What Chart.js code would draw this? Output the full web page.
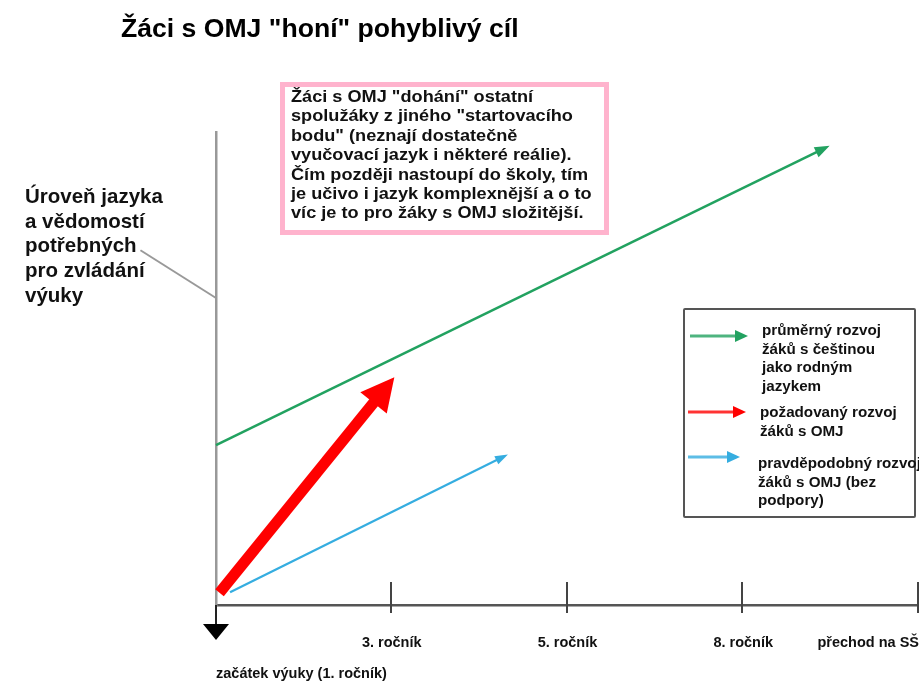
<!DOCTYPE html>
<html lang="cs">
<head>
<meta charset="utf-8">
<title>Žáci s OMJ "honí" pohyblivý cíl</title>
<script src="https://cdn.jsdelivr.net/npm/chart.js@4.4.1/dist/chart.umd.min.js"></script>
<style>
  html, body { margin: 0; padding: 0; background: #fff; }
  #wrap { position: relative; width: 919px; height: 682px; overflow: hidden;
          font-family: 'Liberation Sans', Arial, sans-serif; font-weight: bold; color: #111; }
  #chart { position: absolute; left: 0; top: 0; }
  .title { position: absolute; left: 121px; top: 13px; font-size: 26.6px; white-space: nowrap; color: #000; }
  .ylabel { position: absolute; left: 25px; top: 184px; font-size: 20.5px; line-height: 24.7px; white-space: nowrap; }
  .note { position: absolute; left: 280px; top: 82px; width: 313px; height: 143px;
          border: 5px solid #ffb3cd; padding: 0 0 0 6px; box-sizing: content-box; }
  .note div { font-size: 16.5px; line-height: 19.4px; white-space: nowrap;
              transform: scaleX(1.1); transform-origin: 0 0; }
  .legend { position: absolute; left: 683px; top: 308px; width: 229px; height: 206px;
            border: 2px solid #555; border-radius: 2px; overflow: visible; }
  .item { position: absolute; font-size: 15.2px; line-height: 18.7px; white-space: nowrap; }
  .arrow { position: absolute; }
</style>
</head>
<body>
<div id="wrap">
  <canvas id="chart" width="919" height="682"></canvas>
  <div class="title">Žáci s OMJ "honí" pohyblivý cíl</div>
  <div class="ylabel">Úroveň jazyka<br>a vědomostí<br>potřebných<br>pro zvládání<br>výuky</div>
  <div class="note"><div>Žáci s OMJ "dohání" ostatní<br>spolužáky z jiného "startovacího<br>bodu" (neznají dostatečně<br>vyučovací jazyk i některé reálie).<br>Čím později nastoupí do školy, tím<br>je učivo i jazyk komplexnější a o to<br>víc je to pro žáky s OMJ složitější.</div></div>
  <div class="legend" id="legend"></div>
</div>
<script>
// Values on an arbitrary scale: x = school stage (0 = start), y = level
const stageTicks = [0, 1, 2, 3, 4];
const stageLabels = [['', 'začátek výuky (1. ročník)'], '3. ročník', '5. ročník', '8. ročník', 'přechod na SŠ'];

const seriesNames = [
  ['průměrný rozvoj', 'žáků s češtinou', 'jako rodným', 'jazykem'],
  ['požadovaný rozvoj', 'žáků s OMJ'],
  ['pravděpodobný rozvoj', 'žáků s OMJ (bez', 'podpory)']
];
const seriesColors = ['#22a260', '#ff0000', '#35ade0'];

// start and end (shaft end, the head is drawn on top) of each arrow
const nativeX = [0, 3.42];
const nativeY = [3.38, 9.58];
const requiredX = [0.02, 0.90];
const requiredY = [0.26, 4.29];
const probableX = [0.08, 1.60];
const probableY = [0.27, 3.07];
// leader line from the y-axis label to the axis
const leaderX = [-0.43, 0];
const leaderY = [7.5, 6.49];

const pts = (xs, ys) => xs.map((x, i) => ({ x: x, y: ys[i] }));

// arrow heads at the last point of a dataset
const arrowHeads = {
  id: 'arrowHeads',
  afterDatasetsDraw(chart) {
    const ctx = chart.ctx;
    chart.data.datasets.forEach((ds, i) => {
      if (!ds.headLength) return;
      const data = chart.getDatasetMeta(i).data;
      const a = data[data.length - 2], b = data[data.length - 1];
      const ang = Math.atan2(b.y - a.y, b.x - a.x);
      ctx.save();
      ctx.translate(b.x, b.y);
      ctx.rotate(ang);
      ctx.beginPath();
      ctx.moveTo(ds.headLength, 0);
      ctx.lineTo(-1, -ds.headWidth / 2);
      ctx.lineTo(-1, ds.headWidth / 2);
      ctx.closePath();
      ctx.fillStyle = ds.borderColor;
      ctx.fill();
      ctx.restore();
    });
  }
};

// tick marks crossing the x axis + the down arrow at the start
const axisDecor = {
  id: 'axisDecor',
  afterDraw(chart) {
    const ctx = chart.ctx, xs = chart.scales.x, y0 = chart.scales.y.getPixelForValue(0);
    ctx.save();
    ctx.strokeStyle = '#444';
    ctx.lineWidth = 2;
    stageTicks.slice(1).forEach(v => {
      const px = Math.round(xs.getPixelForValue(v)) - 1;
      ctx.beginPath();
      ctx.moveTo(px, y0 - 23);
      ctx.lineTo(px, y0 + 8);
      ctx.stroke();
    });
    const p0 = xs.getPixelForValue(0);
    ctx.strokeStyle = '#222';
    ctx.beginPath();
    ctx.moveTo(p0, y0);
    ctx.lineTo(p0, y0 + 20);
    ctx.stroke();
    ctx.fillStyle = '#000';
    ctx.beginPath();
    ctx.moveTo(p0 - 13, y0 + 19);
    ctx.lineTo(p0 + 13, y0 + 19);
    ctx.lineTo(p0, y0 + 35);
    ctx.closePath();
    ctx.fill();
    ctx.restore();
  }
};

new Chart(document.getElementById('chart'), {
  type: 'line',
  data: {
    datasets: [{
      label: seriesNames[0].join(' '),
      data: pts(nativeX, nativeY),
      borderColor: seriesColors[0],
      borderWidth: 2.5,
      headLength: 14, headWidth: 11
    }, {
      label: seriesNames[1].join(' '),
      data: pts(requiredX, requiredY),
      borderColor: seriesColors[1],
      borderWidth: 11,
      headLength: 32, headWidth: 34
    }, {
      label: seriesNames[2].join(' '),
      data: pts(probableX, probableY),
      borderColor: seriesColors[2],
      borderWidth: 2.2,
      headLength: 12, headWidth: 9
    }, {
      label: 'leader',
      data: pts(leaderX, leaderY),
      borderColor: '#999',
      borderWidth: 2
    }]
  },
  options: {
    responsive: false,
    animation: false,
    devicePixelRatio: 1,
    layout: { padding: { left: 216, right: 0, top: 132, bottom: 0 } },
    elements: {
      point: { radius: 0 },
      line: { tension: 0, borderCapStyle: 'butt' }
    },
    datasets: { line: { clip: false } },
    plugins: { legend: { display: false }, tooltip: { enabled: false }, title: { display: false } },
    scales: {
      x: {
        type: 'linear', min: 0, max: 4,
        afterBuildTicks: s => { s.ticks = stageTicks.map(v => ({ value: v })); },
        afterFit: s => { s.height = 77; s.paddingLeft = 0; s.paddingRight = 0; },
        grid: { drawOnChartArea: false, drawTicks: false },
        border: { color: '#555', width: 2.5 },
        ticks: {
          align: 'inner',
          padding: 22,
          autoSkip: false,
          maxRotation: 0,
          minRotation: 0,
          color: '#111',
          font: { family: "'Liberation Sans', Arial, sans-serif", size: 14.5, weight: 'bold', lineHeight: 2.15 },
          callback: (v, i) => stageLabels[i]
        }
      },
      y: {
        min: 0, max: 10,
        afterFit: s => { s.width = 0; },
        grid: { drawOnChartArea: false, drawTicks: false },
        border: { color: '#999', width: 2.5 },
        ticks: { display: false }
      }
    }
  },
  plugins: [arrowHeads, axisDecor]
});

// legend with arrow symbols
const legendPos = [
  { ax: 5, ay: 26, aw: 58, tx: 77, ty: 11 },
  { ax: 3, ay: 102, aw: 58, tx: 75, ty: 93 },
  { ax: 3, ay: 147, aw: 52, tx: 73, ty: 144 }
];
const legend = document.getElementById('legend');
seriesNames.forEach((lines, i) => {
  const p = legendPos[i];
  const svg = `<svg class="arrow" style="left:${p.ax}px;top:${p.ay - 6}px" width="${p.aw}" height="12">` +
    `<line x1="0" y1="6" x2="${p.aw - 12}" y2="6" stroke="${seriesColors[i]}" stroke-width="3" opacity="0.8"/>` +
    `<polygon points="${p.aw - 13},0 ${p.aw},6 ${p.aw - 13},12" fill="${seriesColors[i]}"/></svg>`;
  legend.insertAdjacentHTML('beforeend', svg +
    `<div class="item" style="left:${p.tx}px;top:${p.ty}px">${lines.join('<br>')}</div>`);
});
</script>
</body>
</html>
